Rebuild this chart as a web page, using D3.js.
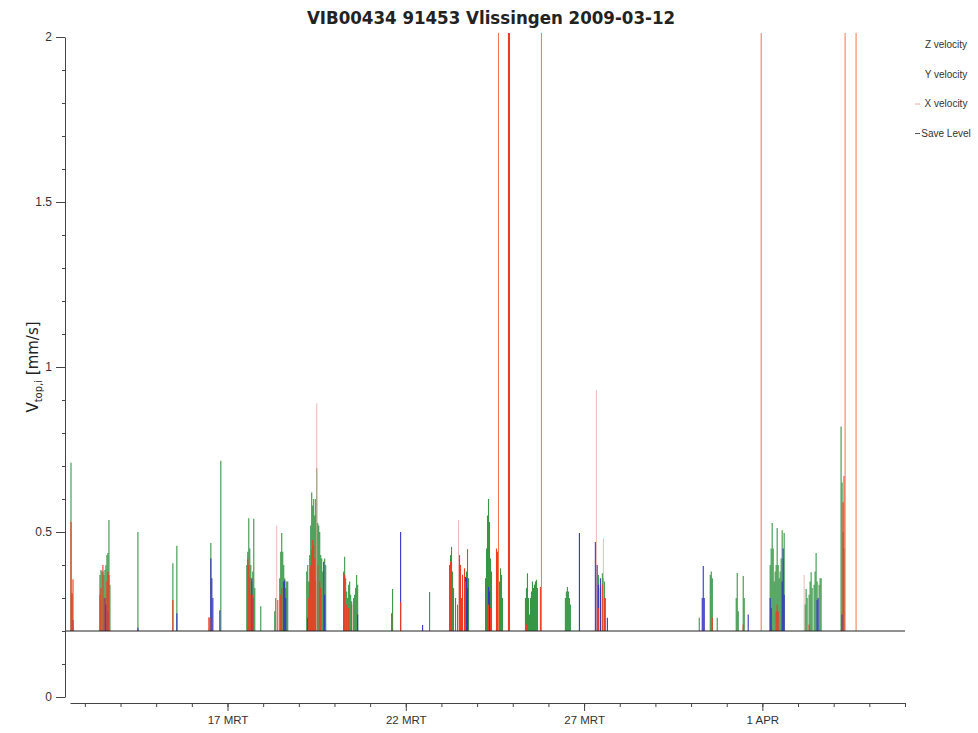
<!DOCTYPE html>
<html>
<head>
<meta charset="utf-8">
<script src="https://cdn.jsdelivr.net/npm/d3@7"></script>
<style>
  body { margin: 0; background: #fff; }
  svg { display: block; }
  text { fill: #333; }
</style>
</head>
<body>
<div id="chart"></div>
<script>
// days are counted from 12 MRT 2009 00:00, values in mm/s
const chartTitle = "VIB00434 91453 Vlissingen 2009-03-12";
const startDay = 0.583;   // first sample
const endDay = 24;        // 5 APR 00:00
const saveLevel = 0.2;

const majorTickDays = [5, 10, 15, 20];
const majorTickLabels = ["17 MRT", "22 MRT", "27 MRT", "1 APR"];
const yTickValues = [0, 0.5, 1, 1.5, 2];

const legendLabels = ["Z velocity", "Y velocity", "X velocity", "Save Level"];

const zVelocity = [
  [0.611, 0.71], [0.639, 0.31],
  [1.423, 0.37], [1.451, 0.385], [1.479, 0.38], [1.507, 0.38], [1.535, 0.37], [1.563, 0.385],
  [1.591, 0.40], [1.619, 0.43], [1.647, 0.436], [1.675, 0.536], [1.703, 0.34],
  [2.488, 0.50],
  [3.468, 0.405], [3.58, 0.458],
  [4.533, 0.467], [4.813, 0.716],
  [5.541, 0.40], [5.569, 0.44], [5.597, 0.542], [5.625, 0.45], [5.653, 0.40], [5.681, 0.35],
  [5.709, 0.38], [5.737, 0.54], [5.765, 0.33],
  [5.933, 0.275],
  [6.325, 0.26], [6.353, 0.30], [6.465, 0.36], [6.493, 0.44], [6.521, 0.497], [6.549, 0.44],
  [6.577, 0.40], [6.605, 0.36], [6.633, 0.33], [6.661, 0.35], [6.689, 0.35],
  [7.222, 0.38], [7.25, 0.40], [7.278, 0.35], [7.306, 0.43], [7.334, 0.52], [7.362, 0.62],
  [7.39, 0.58], [7.418, 0.60], [7.446, 0.55], [7.474, 0.60], [7.502, 0.693], [7.53, 0.527],
  [7.558, 0.52], [7.586, 0.50], [7.614, 0.43], [7.642, 0.42], [7.67, 0.38], [7.726, 0.42], [7.754, 0.40],
  [8.258, 0.38], [8.286, 0.425], [8.314, 0.36], [8.342, 0.32], [8.37, 0.30], [8.398, 0.34],
  [8.426, 0.35], [8.454, 0.31], [8.482, 0.29], [8.538, 0.30], [8.566, 0.31], [8.594, 0.33],
  [8.622, 0.37], [8.65, 0.34],
  [9.63, 0.327],
  [10.667, 0.318],
  [11.227, 0.40], [11.255, 0.43], [11.283, 0.455], [11.311, 0.38], [11.339, 0.33], [11.395, 0.30],
  [11.451, 0.28], [11.563, 0.30], [11.647, 0.34], [11.703, 0.38], [11.731, 0.448], [11.759, 0.36],
  [12.236, 0.36], [12.264, 0.45], [12.292, 0.55], [12.32, 0.60], [12.348, 0.53], [12.376, 0.42],
  [12.404, 0.38], [12.628, 0.35], [12.656, 0.39], [12.684, 0.37], [12.712, 0.30],
  [13.356, 0.30], [13.384, 0.33], [13.412, 0.375], [13.44, 0.30], [13.468, 0.25], [13.496, 0.30],
  [13.524, 0.32], [13.552, 0.35], [13.58, 0.33], [13.608, 0.34], [13.636, 0.35], [13.664, 0.355], [13.692, 0.33],
  [14.476, 0.30], [14.504, 0.32], [14.532, 0.333], [14.56, 0.32], [14.588, 0.30], [14.616, 0.28],
  [15.345, 0.36], [15.373, 0.40], [15.401, 0.37], [15.457, 0.33], [15.513, 0.375], [15.541, 0.36],
  [15.569, 0.35], [15.597, 0.30],
  [18.23, 0.24], [18.539, 0.37], [18.567, 0.38], [18.595, 0.36], [18.735, 0.24],
  [19.267, 0.30], [19.295, 0.376], [19.323, 0.26], [19.463, 0.367], [19.491, 0.30],
  [20.219, 0.40], [20.247, 0.45], [20.275, 0.527], [20.303, 0.45], [20.331, 0.35], [20.359, 0.38],
  [20.387, 0.40], [20.415, 0.512], [20.443, 0.40], [20.471, 0.36], [20.499, 0.38], [20.527, 0.42],
  [20.555, 0.505], [20.583, 0.42], [20.611, 0.497],
  [21.199, 0.28], [21.227, 0.327], [21.255, 0.30], [21.311, 0.31], [21.339, 0.35], [21.367, 0.378],
  [21.395, 0.33], [21.451, 0.34], [21.479, 0.38], [21.507, 0.436], [21.535, 0.35], [21.591, 0.34],
  [21.619, 0.36], [21.647, 0.36],
  [22.207, 0.82], [22.235, 0.65], [22.263, 0.50], [22.291, 0.45]
];

const yVelocity = [
  [0.667, 0.233],
  [1.563, 0.30], [1.591, 0.28], [1.647, 0.26],
  [2.488, 0.21],
  [3.58, 0.254],
  [4.533, 0.42], [4.561, 0.36], [4.589, 0.30], [4.785, 0.263],
  [5.681, 0.36], [5.709, 0.30],
  [6.577, 0.35], [6.605, 0.354], [6.633, 0.30],
  [7.25, 0.24], [7.698, 0.41], [7.726, 0.31],
  [8.65, 0.25],
  [9.855, 0.50],
  [10.471, 0.218],
  [11.675, 0.364], [11.703, 0.36], [11.731, 0.33],
  [12.32, 0.333], [12.348, 0.32],
  [14.869, 0.497],
  [15.317, 0.47], [15.345, 0.40], [15.401, 0.34], [15.457, 0.36], [15.653, 0.24],
  [18.314, 0.30], [18.342, 0.397], [18.37, 0.30],
  [19.603, 0.25],
  [20.219, 0.30], [20.247, 0.27], [20.555, 0.35], [20.583, 0.45], [20.611, 0.31],
  [21.535, 0.294], [21.563, 0.30],
  [22.235, 0.25]
];

const xVelocity = [
  [0.611, 0.53], [0.639, 0.315], [0.667, 0.357],
  [1.423, 0.31], [1.451, 0.33], [1.507, 0.40], [1.535, 0.30], [1.619, 0.35], [1.647, 0.38], [1.675, 0.37],
  [3.468, 0.294],
  [4.477, 0.242], [4.505, 0.24],
  [5.569, 0.42], [5.597, 0.40], [5.625, 0.36], [5.653, 0.31], [5.709, 0.31],
  [6.409, 0.294], [6.493, 0.31], [6.521, 0.33],
  [7.278, 0.30], [7.306, 0.35], [7.334, 0.40], [7.362, 0.445], [7.39, 0.476], [7.418, 0.46],
  [7.446, 0.42], [7.474, 0.35], [7.53, 0.40], [7.586, 0.35], [7.614, 0.33],
  [8.258, 0.375], [8.286, 0.37], [8.342, 0.28], [8.398, 0.27], [8.482, 0.28],
  [9.602, 0.254], [9.855, 0.288],
  [11.255, 0.41], [11.283, 0.38], [11.507, 0.43], [11.535, 0.40], [11.591, 0.37],
  [11.647, 0.39], [11.675, 0.35],
  [12.292, 0.30], [12.32, 0.28], [12.376, 0.27], [12.544, 0.45], [12.572, 0.44],
  [12.88, 2.2], [12.908, 2.2],
  [13.384, 0.22], [13.776, 0.333],
  [15.373, 0.31], [15.401, 0.27], [15.513, 0.34], [15.569, 0.30],
  [18.595, 0.24],
  [19.463, 0.22],
  [20.387, 0.26], [20.415, 0.28], [20.443, 0.26],
  [21.311, 0.22],
  [22.263, 0.59], [22.291, 0.67]
];

// single-sample X peaks that run off the top, drawn as thin orange strokes
const xVelocityOverflow = [
  [12.6, 2.2], [13.804, 2.2], [19.967, 2.2], [22.32, 2.2], [22.628, 2.2]
];

// single-sample X peaks, drawn as faint hairlines
const xVelocityPeaks = [
  [6.381, 0.52], [7.502, 0.89], [11.479, 0.536], [15.345, 0.93], [15.541, 0.48], [21.171, 0.37]
];

const seriesList = [
  { name: "Z velocity", data: zVelocity, color: "#379646", width: 1.1 },
  { name: "Y velocity", data: yVelocity, color: "#3434c4", width: 1.1 },
  { name: "X velocity", data: xVelocity, color: "#f23a22", width: 1.1 },
  { name: "X velocity", data: xVelocityOverflow, color: "#f2764a", width: 1 },
  { name: "X velocity", data: xVelocityPeaks, color: "#e6aaa6", width: 0.8 }
];

const W = 978, H = 733;
const day0 = new Date(2009, 2, 12);
const toDate = d => new Date(day0.getTime() + d * 864e5);

const svg = d3.select("#chart").append("svg")
  .attr("width", W)
  .attr("height", H)
  .style("font-family", "'Liberation Sans', Arial, sans-serif");

const x = d3.scaleTime()
  .domain([toDate(startDay), toDate(endDay)])
  .range([70, 905]);

const y = d3.scaleLinear()
  .domain([0, 2])
  .range([697, 37]);

// title
svg.append("text")
  .attr("x", 491)
  .attr("y", 24)
  .attr("text-anchor", "middle")
  .style("font-family", "'DejaVu Sans Condensed', 'DejaVu Sans', sans-serif")
  .style("font-weight", "bold")
  .style("font-size", "18.5px")
  .style("fill", "#222")
  .text(chartTitle);

// clip so the large peaks stop at the top of the plot
svg.append("clipPath").attr("id", "plotclip")
  .append("rect").attr("x", 60).attr("y", 33).attr("width", 860).attr("height", 670);

const plot = svg.append("g").attr("clip-path", "url(#plotclip)");

seriesList.forEach(s => {
  plot.append("g")
    .selectAll("line")
    .data(s.data)
    .enter()
    .append("line")
    .attr("x1", d => x(toDate(d[0])))
    .attr("x2", d => x(toDate(d[0])))
    .attr("y1", y(saveLevel))
    .attr("y2", d => y(d[1]))
    .attr("stroke", s.color)
    .attr("stroke-width", s.width);
});

// save level
plot.append("line")
  .attr("x1", 65).attr("x2", x(toDate(endDay)))
  .attr("y1", y(saveLevel)).attr("y2", y(saveLevel))
  .attr("stroke", "#222")
  .attr("stroke-width", 1);

// y axis: minor then major
svg.append("g")
  .attr("transform", "translate(65,0)")
  .call(d3.axisLeft(y).ticks(20).tickSize(3).tickSizeOuter(0).tickFormat(""))
  .call(g => g.select(".domain").attr("stroke", "#444"))
  .call(g => g.selectAll(".tick line").attr("stroke", "#444"));

svg.append("g")
  .attr("transform", "translate(65,0)")
  .call(d3.axisLeft(y).tickValues(yTickValues).tickSize(9).tickSizeOuter(0).tickPadding(4).tickFormat(d => d))
  .call(g => g.select(".domain").remove())
  .call(g => g.selectAll(".tick line").attr("stroke", "#444"))
  .call(g => g.selectAll(".tick text").style("font-size", "12px").style("fill", "#333"));

// x axis: daily minor ticks, labelled ticks every 5 days
svg.append("g")
  .attr("transform", "translate(0,703)")
  .call(d3.axisBottom(x).ticks(d3.timeDay.every(1)).tickSize(4).tickSizeOuter(0).tickFormat(""))
  .call(g => g.select(".domain").attr("stroke", "#444"))
  .call(g => g.selectAll(".tick line").attr("stroke", "#444"));

svg.append("g")
  .attr("transform", "translate(0,703)")
  .call(d3.axisBottom(x)
    .tickValues(majorTickDays.map(toDate))
    .tickSize(8).tickSizeOuter(0).tickPadding(5)
    .tickFormat((d, i) => majorTickLabels[i]))
  .call(g => g.select(".domain").remove())
  .call(g => g.selectAll(".tick line").attr("stroke", "#444"))
  .call(g => g.selectAll(".tick text").style("font-size", "11.5px").style("fill", "#333"));

// y axis title
const yt = svg.append("text")
  .attr("transform", "translate(38,367) rotate(-90)")
  .attr("text-anchor", "middle")
  .style("font-family", "'DejaVu Sans', sans-serif")
  .style("font-size", "15px")
  .style("fill", "#222");
yt.append("tspan").text("V");
yt.append("tspan").attr("dy", 4).style("font-size", "10px").text("top,i");
yt.append("tspan").attr("dy", -4).text(" [mm/s]");

// legend
const legendColors = ["#fff", "#fff", "#e6aaa6", "#555"];
const legend = svg.append("g")
  .style("font-size", "10px");
legendLabels.forEach((label, i) => {
  const ly = 45 + i * 29.5;
  legend.append("line")
    .attr("x1", 915).attr("x2", 920)
    .attr("y1", ly).attr("y2", ly)
    .attr("stroke", legendColors[i]);
  legend.append("text")
    .attr("x", 946)
    .attr("y", ly + 3)
    .attr("text-anchor", "middle")
    .style("fill", "#333")
    .text(label);
});
</script>
</body>
</html>
